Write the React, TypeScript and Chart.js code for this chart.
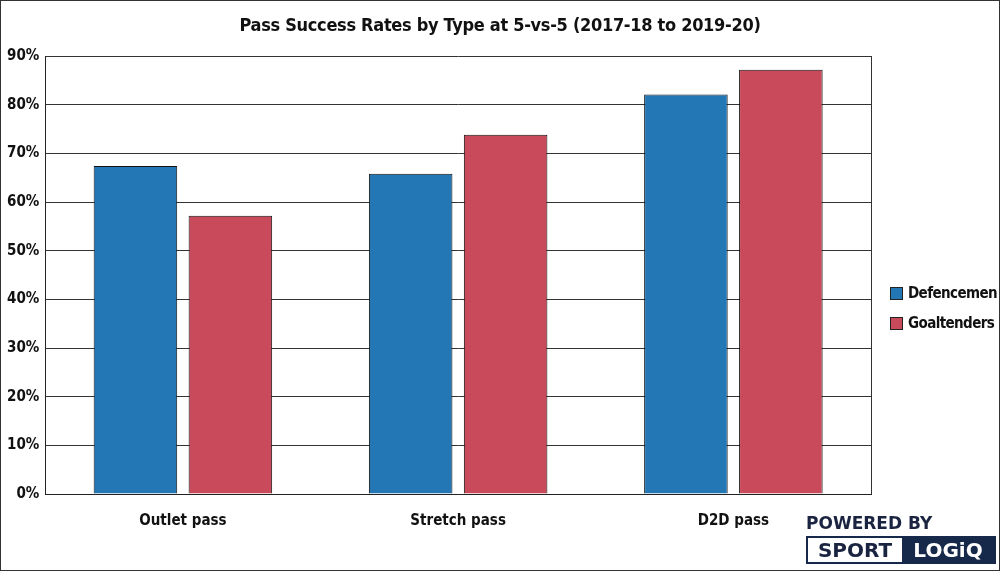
import React, { useEffect, useRef } from "react";
import { Chart, registerables } from "chart.js";
Chart.register(...registerables);

const categories = ["Outlet pass", "Stretch pass", "D2D pass"];
const defencemen = [67.4, 65.8, 82.1];
const goaltenders = [57.2, 73.8, 87.2];
const seriesNames = ["Defencemen", "Goaltenders"];
const seriesColors = ["#2277b4", "#c94a5a"];
const titleText = "Pass Success Rates by Type at 5-vs-5 (2017-18 to 2019-20)";
const FONT = "'Liberation Sans Narrow', 'DejaVu Sans Condensed', sans-serif";

export default function App() {
  const ref = useRef<HTMLCanvasElement>(null);
  useEffect(() => {
    const ds = (i: number, data: number[]) => ({
      label: seriesNames[i], data, backgroundColor: seriesColors[i], borderColor: "#111", borderWidth: 1,
      categoryPercentage: 0.69, barPercentage: 0.88,
    });
    const chart = new Chart(ref.current!, {
      type: "bar",
      data: { labels: categories, datasets: [ds(0, defencemen), ds(1, goaltenders)] },
      options: {
        animation: false,
        responsive: false,
        layout: { padding: { top: 55, left: 0, right: 128, bottom: 30 } },
        plugins: {
          title: { display: false },
          legend: { display: false },
          tooltip: { enabled: false },
        },
        scales: {
          x: {
            grid: { display: false },
            border: { color: "#222", width: 1 },
            ticks: { color: "#111", font: { family: FONT, size: 15, weight: "bold" }, padding: 10 },
          },
          y: {
            min: 0, max: 90,
            ticks: { stepSize: 10, callback: (v: any) => v + "%", color: "#111", font: { family: FONT, size: 15, weight: "bold" }, padding: 6 },
            grid: { color: "#333", drawTicks: false, lineWidth: 1 },
            border: { color: "#222", width: 1 },
          },
        },
      },
      plugins: [{
        id: "rightEdge",
        afterDraw(c: any) {
          const { ctx, chartArea: a } = c;
          ctx.save(); ctx.strokeStyle = "#333"; ctx.lineWidth = 1;
          ctx.beginPath(); ctx.moveTo(a.right + 0.5, a.top); ctx.lineTo(a.right + 0.5, a.bottom); ctx.stroke();
          ctx.restore();
        },
      }],
    } as any);
    return () => chart.destroy();
  }, []);
  return (
    <div style={{ position: "fixed", left: 0, top: 0, width: 1000, height: 571, background: "#fff", boxSizing: "border-box", border: "1px solid #333" }}>
      <canvas ref={ref} width={998} height={569} />
      <div style={{ position: "absolute", left: 0, width: 998, top: 13, textAlign: "center", fontFamily: FONT, fontWeight: "bold", fontSize: 18, color: "#111", letterSpacing: -0.3 }}>{titleText}</div>
      <div style={{ position: "absolute", left: 889, top: 277, fontFamily: FONT, fontWeight: "bold", fontSize: 15, color: "#111", letterSpacing: -0.6 }}>
        {seriesNames.map((n, i) => (
          <div key={n} style={{ display: "flex", alignItems: "center", height: 30 }}>
            <span style={{ width: 11, height: 11, background: seriesColors[i], border: "1px solid #222", marginRight: 5, flex: "0 0 auto" }} />
            {n}
          </div>
        ))}
      </div>
      <div style={{ position: "absolute", left: 805, top: 512, fontFamily: "'DejaVu Sans', sans-serif", fontWeight: "bold", fontSize: 17, color: "#1a2440" }}>POWERED BY</div>
      <div style={{ position: "absolute", left: 805, top: 535, width: 190, height: 28, display: "flex", border: "2px solid #17294a", boxSizing: "border-box", fontFamily: "'DejaVu Sans', sans-serif", fontWeight: "bold", fontSize: 20 }}>
        <div style={{ flex: "0 0 94px", textAlign: "center", color: "#1a2440", lineHeight: "24px" }}>SPORT</div>
        <div style={{ flex: 1, background: "#17294a", color: "#fff", textAlign: "center", lineHeight: "24px" }}>LOGiQ</div>
      </div>
    </div>
  );
}
